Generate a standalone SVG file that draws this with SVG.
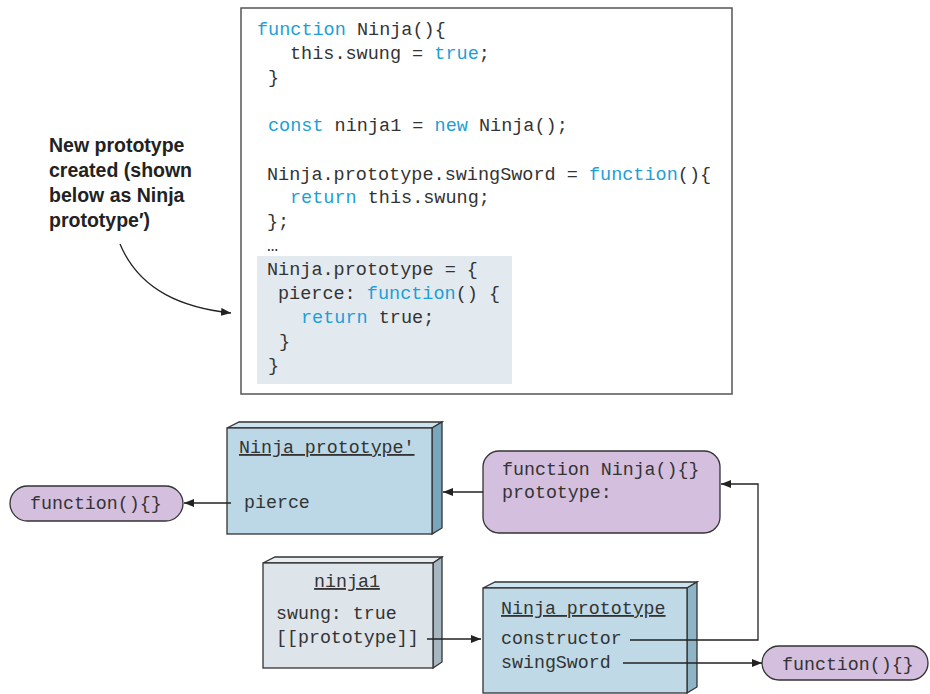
<svg xmlns="http://www.w3.org/2000/svg" width="930" height="694" viewBox="0 0 930 694">
<style>
.code{font-family:"Liberation Mono","DejaVu Sans Mono",monospace;font-size:18.5px;fill:#333;}
.kw{fill:#1c9fd6;}
.mono{font-family:"Liberation Mono","DejaVu Sans Mono",monospace;font-size:18.3px;fill:#333;}
.ann{font-family:"Liberation Sans","Arial",sans-serif;font-size:19.5px;font-weight:bold;fill:#222;}
.edge{stroke:#222;stroke-width:1.3;fill:none;}
.box{stroke:#333;stroke-width:1.3;}
.pill{fill:#d4bfdf;stroke:#333;stroke-width:1.3;}
</style>
<defs>
<marker id="ah" viewBox="0 0 10 8" refX="10" refY="4" markerWidth="10" markerHeight="8" markerUnits="userSpaceOnUse" orient="auto">
<path d="M0,0 L10,4 L0,8 Z" fill="#222"/>
</marker>
</defs>

<g id="code-box">
<rect x="241" y="8" width="491" height="386" fill="#fff" stroke="#555" stroke-width="1.5"/>
<rect x="257" y="256" width="255" height="128" fill="#e2eaf0"/>
<text class="code" x="257" y="35"><tspan class="kw">function</tspan> Ninja(){</text>
<text class="code" x="290" y="59">this.swung = <tspan class="kw">true</tspan>;</text>
<text class="code" x="268" y="83">}</text>
<text class="code" x="268" y="131"><tspan class="kw">const</tspan> ninja1 = <tspan class="kw">new</tspan> Ninja();</text>
<text class="code" x="267" y="180">Ninja.prototype.swingSword = <tspan class="kw">function</tspan>(){</text>
<text class="code" x="290" y="203"><tspan class="kw">return</tspan> this.swung;</text>
<text class="code" x="267" y="227">};</text>
<text class="code" x="267" y="251">…</text>
<text class="code" x="267" y="275">Ninja.prototype = {</text>
<text class="code" x="278" y="299">pierce: <tspan class="kw">function</tspan>() {</text>
<text class="code" x="301" y="323"><tspan class="kw">return</tspan> true;</text>
<text class="code" x="279" y="347">}</text>
<text class="code" x="268" y="371">}</text>
</g>

<g id="annotation">
<text class="ann" x="49" y="152">New prototype</text>
<text class="ann" x="49" y="177">created (shown</text>
<text class="ann" x="49" y="202">below as Ninja</text>
<text class="ann" x="49" y="227">prototype′)</text>
</g>

<g id="ninja-prototype-new">
<polygon class="box" points="227,428 239,422 442,422 432,428" fill="#cfe3ee"/>
<polygon class="box" points="432,428 442,422 442,528 432,534" fill="#78a6bd"/>
<rect class="box" x="227" y="428" width="205" height="106" fill="#bcd8e6"/>
<text class="mono" x="239" y="453" text-decoration="underline">Ninja prototype′</text>
<text class="mono" x="244" y="508">pierce</text>
</g>

<g id="pierce-fn">
<rect class="pill" x="10" y="486" width="173" height="35" rx="17.5"/>
<text class="mono" x="30" y="509">function(){}</text>
</g>

<g id="ninja-fn">
<rect class="pill" x="483" y="451" width="237" height="82" rx="16"/>
<text class="mono" x="502" y="475">function Ninja(){}</text>
<text class="mono" x="502" y="498">prototype:</text>
</g>

<g id="ninja1">
<polygon class="box" points="263,563 275,557 442,557 433,563" fill="#e8edf1"/>
<polygon class="box" points="433,563 442,557 442,662 433,668" fill="#a7b7c1"/>
<rect class="box" x="263" y="563" width="170" height="105" fill="#dde4ea"/>
<text class="mono" x="347" y="587" text-anchor="middle" text-decoration="underline">ninja1</text>
<text class="mono" x="276" y="619">swung: true</text>
<text class="mono" x="276" y="643">[[prototype]]</text>
</g>

<g id="ninja-prototype">
<polygon class="box" points="483,588 495,582 697,582 687,588" fill="#cfe3ee"/>
<polygon class="box" points="687,588 697,582 697,687 687,693" fill="#8fb4c6"/>
<rect class="box" x="483" y="588" width="204" height="105" fill="#bfd9e6"/>
<text class="mono" x="501" y="614" text-decoration="underline">Ninja prototype</text>
<text class="mono" x="501" y="644">constructor</text>
<text class="mono" x="501" y="668">swingSword</text>
</g>

<g id="swing-fn">
<rect class="pill" x="762" y="646" width="166" height="34" rx="17"/>
<text class="mono" x="782" y="670">function(){}</text>
</g>

<g id="connectors">
<path class="edge" d="M120,244 C140,292 185,308 231,313" marker-end="url(#ah)"/>
<path class="edge" d="M231,503 L184,503" marker-end="url(#ah)"/>
<path class="edge" d="M483,492 L443,492" marker-end="url(#ah)"/>
<path class="edge" d="M630,640 L758,640 L758,484 L721,484" marker-end="url(#ah)"/>
<path class="edge" d="M427,639 L481,639" marker-end="url(#ah)"/>
<path class="edge" d="M623,663 L762,663" marker-end="url(#ah)"/>
</g>
</svg>
